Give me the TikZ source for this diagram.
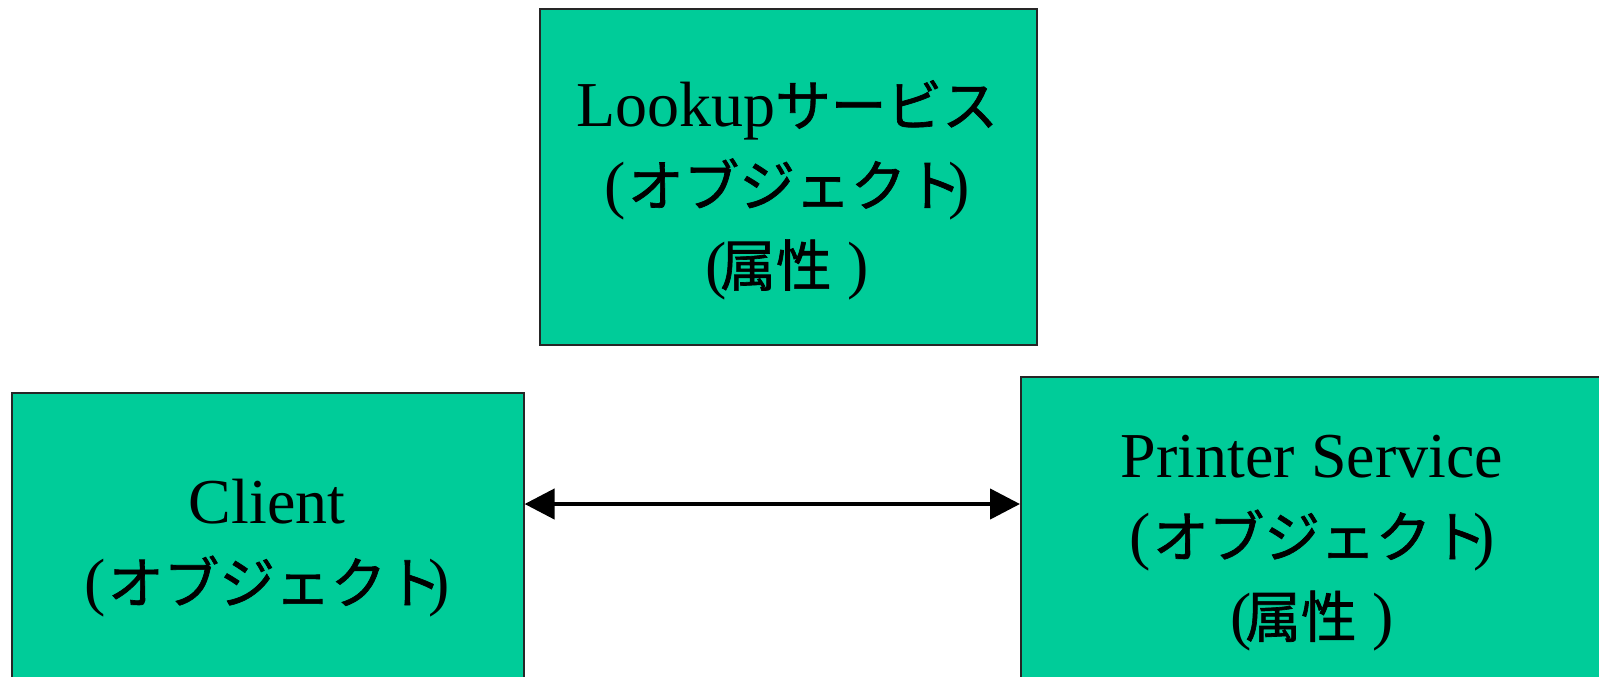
\documentclass[tikz,border=0pt]{standalone}
\usepackage{fontspec}
\setmainfont{Liberation Serif}
\newfontfamily\cjk{Noto Sans CJK JP}[Scale=0.87, FakeBold=1.2]
\usetikzlibrary{arrows.meta}
\definecolor{boxgreen}{RGB}{0,204,153}
\begin{document}
\begin{tikzpicture}[x=0.5pt,y=-0.5pt,
  objbox/.style={draw=black!85, line width=0.8pt, fill=boxgreen, rectangle, inner sep=0pt, anchor=north west},
  boxlabel/.style={align=center, font=\fontsize{32pt}{40pt}\selectfont, inner sep=0pt},
  link/.style={{Triangle[length=15pt,width=15pt]}-{Triangle[length=15pt,width=15pt]}, line width=2.2pt}]
\useasboundingbox (0,0) rectangle (1599,676);
\node[objbox, minimum width=248.5pt, minimum height=168pt] (lookup) at (539,8) {};
\node[objbox, minimum width=256pt, minimum height=160pt] (client) at (11,392) {};
\node[objbox, minimum width=300pt, minimum height=160pt] (printer) at (1020,376) {};
\node[boxlabel] (lookuptext) at (787,190) {Lookup{\cjk サービス}\\(\kern1pt{\cjk オブジェクト}\kern-7pt)\\(\kern-3pt{\cjk 属性} )};
\node[boxlabel] (clienttext) at (267,548) {Client\\(\kern1pt{\cjk オブジェクト}\kern-7pt)};
\node[boxlabel] (printertext) at (1312,543) {Printer Service\\(\kern1pt{\cjk オブジェクト}\kern-7pt)\\(\kern-3pt{\cjk 属性} )};
\coordinate (ay) at (0,504);
\draw[link] (client.east |- ay) -- (printer.west |- ay);
\end{tikzpicture}
\end{document}
